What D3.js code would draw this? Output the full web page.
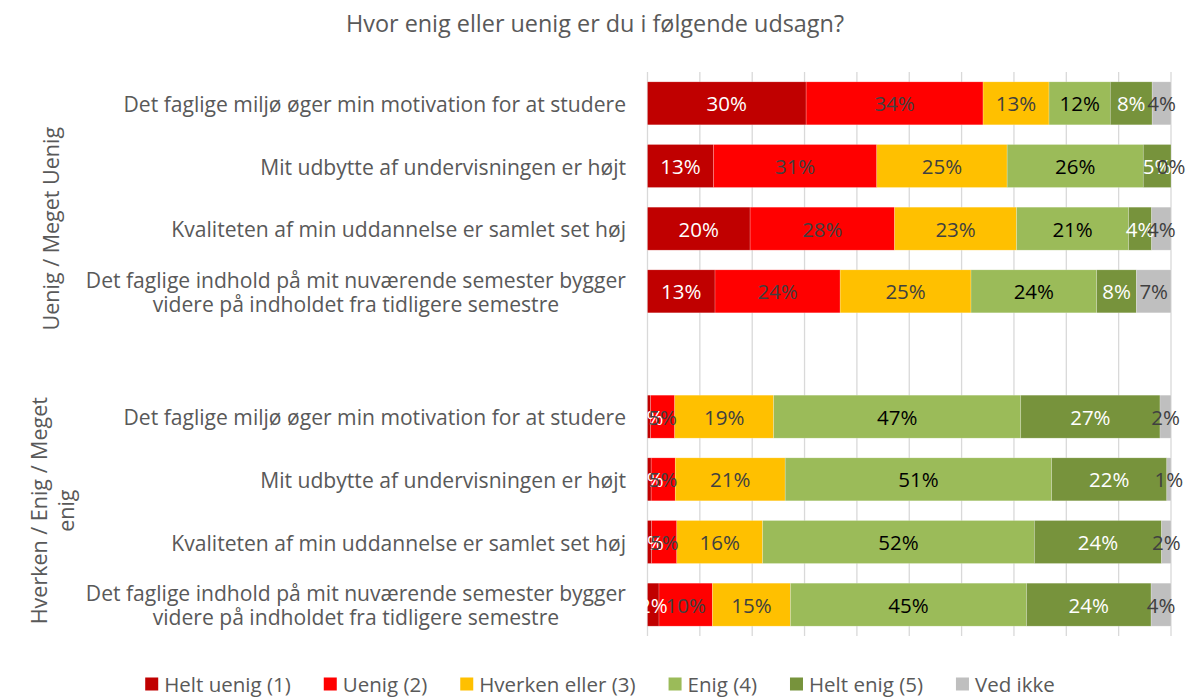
<!DOCTYPE html>
<html><head><meta charset="utf-8">
<script src="https://cdn.jsdelivr.net/npm/d3@7"></script>
<style>
body{margin:0;background:#fff}
svg{display:block}
text{font-family:"Open Sans",Lato,sans-serif}
</style>
</head><body>
<svg id="c" width="1189" height="699"></svg>
<script>
// ---- data ----
const title = "Hvor enig eller uenig er du i følgende udsagn?";
const groups = ["Uenig / Meget Uenig", "Hverken / Enig / Meget enig"];
const groupLines = [["Uenig / Meget Uenig"], ["Hverken / Enig / Meget", "enig"]];
const questions = [
  "Det faglige miljø øger min motivation for at studere",
  "Mit udbytte af undervisningen er højt",
  "Kvaliteten af min uddannelse er samlet set høj",
  "Det faglige indhold på mit nuværende semester bygger videre på indholdet fra tidligere semestre"
];
const questionLines = [
  ["Det faglige miljø øger min motivation for at studere"],
  ["Mit udbytte af undervisningen er højt "],
  ["Kvaliteten af min uddannelse er samlet set høj "],
  ["Det faglige indhold på mit nuværende semester bygger", "videre på indholdet fra tidligere semestre"]
];
const seriesNames = ["Helt uenig (1)", "Uenig (2)", "Hverken eller (3)", "Enig (4)", "Helt enig (5)", "Ved ikke"];
// values in %, rows: group 1 (q1..q4), then group 2 (q1..q4)
const heltUenig = [30.3, 12.6, 19.6, 12.9, 0.6, 0.7, 0.8, 2.2];
const uenig     = [33.8, 31.2, 27.6, 23.9, 4.6, 4.6, 4.8, 10.2];
const hverken   = [12.6, 24.9, 23.3, 25.0, 18.9, 21.0, 16.4, 14.9];
const enig      = [11.7, 26.0, 21.4, 24.0, 47.2, 50.9, 51.9, 45.1];
const heltEnig  = [8.0, 5.3, 4.4, 7.6, 26.6, 22.0, 24.3, 23.8];
const vedIkke   = [3.6, 0.0, 3.7, 6.6, 2.1, 0.8, 1.8, 3.8];
const xTicks = [0, 10, 20, 30, 40, 50, 60, 70, 80, 90, 100];

// ---- styles ----
const colors = ["#C00000", "#FF0000", "#FFC000", "#9BBB59", "#77933C", "#BFBFBF"];
const labelColors = ["#FFFFFF", "#404040", "#404040", "#000000", "#FFFFFF", "#404040"];
const textGrey = "#595959";

const seriesValues = [heltUenig, uenig, hverken, enig, heltEnig, vedIkke];

// rows
const rows = [];
groups.forEach((g, gi) => {
  questions.forEach((q, qi) => {
    const idx = gi * questions.length + qi;
    const r = {key: "g" + gi + "q" + qi, group: gi, q: qi};
    seriesNames.forEach((s, si) => r[s] = seriesValues[si][idx]);
    rows.push(r);
  });
});
const slots = [];
rows.forEach((r, i) => { slots.push(r.key); if (i === questions.length - 1) slots.push("gap"); });

const svg = d3.select("#c");
const x = d3.scaleLinear().domain([0, 100]).range([647.5, 1171]);
const y = d3.scaleBand().domain(slots).range([72, 636]).paddingInner(0.314).paddingOuter(0.157);

// gridlines
svg.append("g").selectAll("line").data(xTicks).join("line")
  .attr("x1", d => x(d)).attr("x2", d => x(d))
  .attr("y1", 72).attr("y2", 636)
  .attr("stroke", "#D9D9D9").attr("stroke-width", 1.3);

// stack
const stack = d3.stack().keys(seriesNames);
const stacked = stack(rows);

const barG = svg.append("g");
stacked.forEach((layer, si) => {
  barG.append("g").selectAll("rect").data(layer).join("rect")
    .attr("x", d => x(d[0]))
    .attr("width", d => Math.max(0, x(d[1]) - x(d[0])))
    .attr("y", d => y(d.data.key))
    .attr("height", y.bandwidth())
    .attr("fill", colors[si])
    .attr("stroke", "rgba(255,255,255,0.35)").attr("stroke-width", 0.6);
});
const labG = svg.append("g");
stacked.forEach((layer, si) => {
  labG.append("g").selectAll("text").data(layer).join("text")
    .attr("x", d => (x(d[0]) + x(d[1])) / 2)
    .attr("y", d => y(d.data.key) + y.bandwidth() / 2)
    .attr("text-anchor", "middle")
    .attr("dominant-baseline", "central")
    .attr("font-size", 20.5)
    .attr("fill", labelColors[si])
    .text(d => Math.round(d[1] - d[0]) + "%");
});

// category labels
const catRight = 626;
rows.forEach(r => {
  const lines = questionLines[r.q];
  const cy = y(r.key) + y.bandwidth() / 2;
  const lh = 24.5;
  const g = svg.append("g");
  const ts = lines.map((ln, li) => g.append("text")
    .attr("y", cy + (li - (lines.length - 1) / 2) * lh)
    .attr("dominant-baseline", "central")
    .attr("font-size", 21.1)
    .attr("fill", textGrey)
    .text(ln));
  const widths = ts.map(t => t.node().getComputedTextLength());
  const maxW = d3.max(widths);
  const cx = catRight - maxW / 2;
  ts.forEach(t => t.attr("x", cx).attr("text-anchor", "middle"));
});

// group labels
const groupX = [50, 38];
groups.forEach((g, gi) => {
  const first = y("g" + gi + "q0");
  const lastKey = gi === 0 ? "gap" : "g" + gi + "q" + (questions.length - 1);
  const last = y(lastKey) + y.bandwidth();
  const top = first - y.step() * y.paddingInner() / 2;
  const bot = last + y.step() * y.paddingInner() / 2;
  const cy = (top + bot) / 2;
  const lines = groupLines[gi];
  lines.forEach((ln, li) => {
    svg.append("text")
      .attr("transform", `translate(${groupX[gi] + li * 27},${cy}) rotate(-90)`)
      .attr("text-anchor", "middle")
      .attr("dominant-baseline", "central")
      .attr("font-size", 21.5)
      .attr("fill", textGrey)
      .text(ln);
  });
});

// title
svg.append("text").attr("x", 595).attr("y", 23)
  .attr("text-anchor", "middle").attr("dominant-baseline", "central")
  .attr("font-size", 23.4).attr("fill", textGrey).text(title);

// legend
const leg = svg.append("g");
let lx = 0;
seriesNames.forEach((s, si) => {
  const it = leg.append("g").attr("transform", `translate(${lx},0)`);
  it.append("rect").attr("x", 0).attr("y", -6.5).attr("width", 13).attr("height", 13).attr("fill", colors[si]);
  const t = it.append("text").attr("x", 19).attr("y", 0)
    .attr("dominant-baseline", "central").attr("font-size", 20.5).attr("fill", textGrey).text(s);
  lx += 19 + t.node().getComputedTextLength() + 33;
});
const legW = lx - 33;
leg.attr("transform", `translate(${(137 + 1063) / 2 - legW / 2},684)`);
</script>
</body></html>
